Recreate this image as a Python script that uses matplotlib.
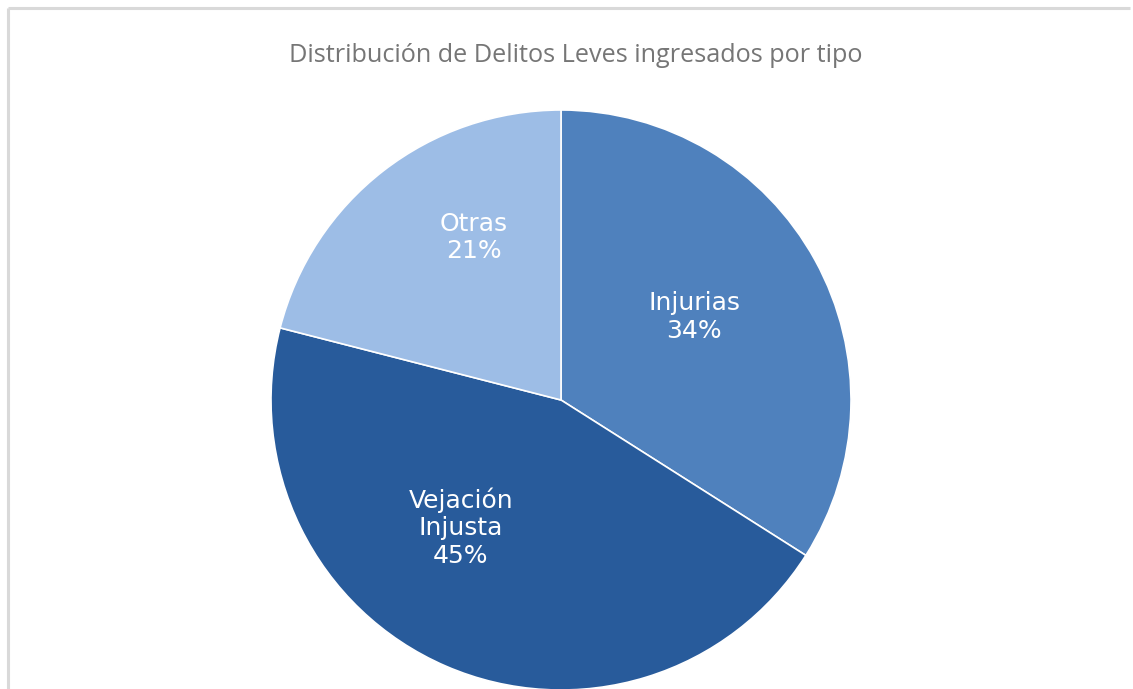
import matplotlib.pyplot as plt
from matplotlib.lines import Line2D

# data
categories = ["Injurias", "Vejación\nInjusta", "Otras"]
shares = [34, 45, 21]
colors = ["#4f81bd", "#285b9b", "#9dbde6"]

# label spots (fraction of radius) where the original puts them
label_pos = [(0.46, 0.285), (-0.345, -0.44), (-0.30, 0.56)]

W, H = 1133, 689
fig = plt.figure(figsize=(W / 100, H / 100), dpi=100)

# light grey frame: only the left and top edges show in the original
fx, fy = 7.5 / W, 1 - 7.5 / H
fig.add_artist(Line2D([fx, fx], [0.5 / H, fy], transform=fig.transFigure,
                      color="#d9d9d9", linewidth=2.2, solid_capstyle="butt"))
fig.add_artist(Line2D([fx, (W - 3) / W], [fy, fy], transform=fig.transFigure,
                      color="#d9d9d9", linewidth=2.2, solid_capstyle="butt"))

fig.text(576 / W, 1 - 56 / H, "Distribución de Delitos Leves ingresados por tipo",
         ha="center", va="center", fontsize=18.2, color="#767676",
         fontfamily=["Open Sans"])

R = 290
cx, cy = 561, H - 400
ax = fig.add_axes([(cx - R) / W, (cy - R) / H, 2 * R / W, 2 * R / H])

wedges, _ = ax.pie(shares, colors=colors, startangle=90, counterclock=False,
                   wedgeprops=dict(edgecolor="white", linewidth=1.2))
for w in wedges:
    w.set_clip_on(False)

for name, val, (x, y) in zip(categories, shares, label_pos):
    ax.text(x, y, f"{name}\n{val}%", ha="center", va="center",
            fontsize=18, color="white", fontfamily=["DejaVu Sans"],
            linespacing=1.2)

ax.set_xlim(-1, 1)
ax.set_ylim(-1, 1)
ax.set_aspect("equal")
ax.axis("off")

fig.savefig("out.png", dpi=100)
